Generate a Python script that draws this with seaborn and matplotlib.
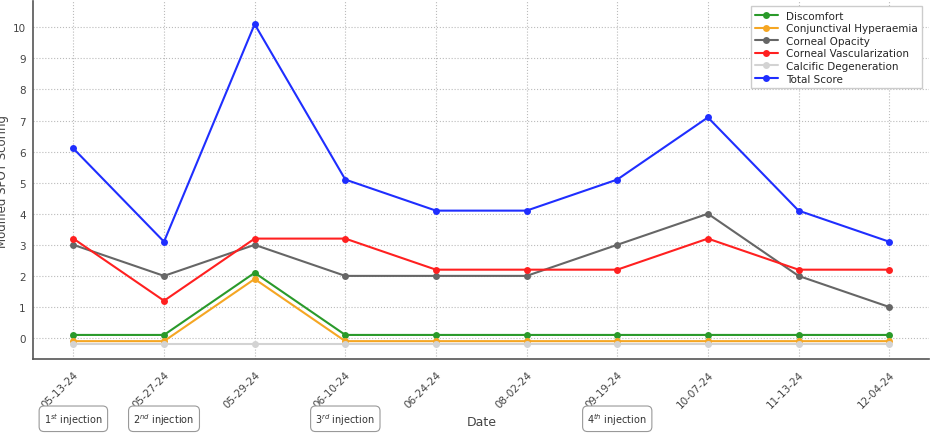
import matplotlib
matplotlib.use('Agg')
import matplotlib.pyplot as plt
import matplotlib.transforms as mtransforms
import seaborn as sns
import pandas as pd

dates = ['05-13-24', '05-27-24', '05-29-24', '06-10-24', '06-24-24',
         '08-02-24', '09-19-24', '10-07-24', '11-13-24', '12-04-24']
discomfort = [0.1, 0.1, 2.1, 0.1, 0.1, 0.1, 0.1, 0.1, 0.1, 0.1]
conjunctival = [-0.1, -0.1, 1.9, -0.1, -0.1, -0.1, -0.1, -0.1, -0.1, -0.1]
opacity = [3, 2, 3, 2, 2, 2, 3, 4, 2, 1]
vascular = [3.2, 1.2, 3.2, 3.2, 2.2, 2.2, 2.2, 3.2, 2.2, 2.2]
calcific = [-0.2] * 10
total = [6.1, 3.1, 10.1, 5.1, 4.1, 4.1, 5.1, 7.1, 4.1, 3.1]
injections = [(0, '1$^{st}$ injection'), (1, '2$^{nd}$ injection'),
              (3, '3$^{rd}$ injection'), (6, '4$^{th}$ injection')]

series = [
    ('Discomfort', discomfort, '#2a9a2a'),
    ('Conjunctival Hyperaemia', conjunctival, '#f5a623'),
    ('Corneal Opacity', opacity, '#666666'),
    ('Corneal Vascularization', vascular, '#ff2020'),
    ('Calcific Degeneration', calcific, '#d3d3d3'),
    ('Total Score', total, '#1f2eff'),
]

sns.set_style('white')
plt.rcParams['font.family'] = ['DejaVu Sans']
fig = plt.figure(figsize=(9.3, 4.35), dpi=100)
ax = fig.add_axes([0.036, 0.172, 0.963, 0.823])

for name, vals, col in series:
    df = pd.DataFrame({'x': range(len(dates)), 'y': vals})
    sns.lineplot(data=df, x='x', y='y', ax=ax, color=col, marker='o',
                 markersize=5, markeredgewidth=0, linewidth=1.5, label=name)

ax.set_xlim(-0.44, 9.44)
ax.set_ylim(-0.68, 10.84)
ax.set_xticks(range(len(dates)))
ax.set_xticklabels(dates, rotation=45, fontsize=7.5, color='#444444',
                   ha='right', rotation_mode='anchor')
ax.set_yticks(range(11))
ax.tick_params(axis='y', labelsize=7.5, colors='#444444', pad=2)
ax.set_xlabel('Date', fontsize=9, color='#444444', labelpad=4)
ax.set_ylabel('Modified SPOT Scoring', fontsize=8.5, color='#444444')
ax.yaxis.set_label_coords(-0.027, 0.5)
ax.grid(True, linestyle=':', color='#bbbbbb', linewidth=0.8)
for s in ['top', 'right']:
    ax.spines[s].set_visible(False)
for s in ['left', 'bottom']:
    ax.spines[s].set_color('#555555')
    ax.spines[s].set_linewidth(1.2)

ax.legend(loc='upper right', fontsize=7.5, frameon=True, framealpha=1,
          edgecolor='#cccccc', fancybox=False, borderpad=0.4, labelspacing=0.25,
          handlelength=2.2, bbox_to_anchor=(0.998, 1.0))

trans = mtransforms.blended_transform_factory(ax.transData, fig.transFigure)
for xi, txt in injections:
    ax.text(xi, 0.035, txt, transform=trans, ha='center', va='center', fontsize=7,
            color='#333333',
            bbox=dict(boxstyle='round,pad=0.5', fc='white', ec='#999999', lw=0.8))

fig.savefig('out.png', dpi=100)
